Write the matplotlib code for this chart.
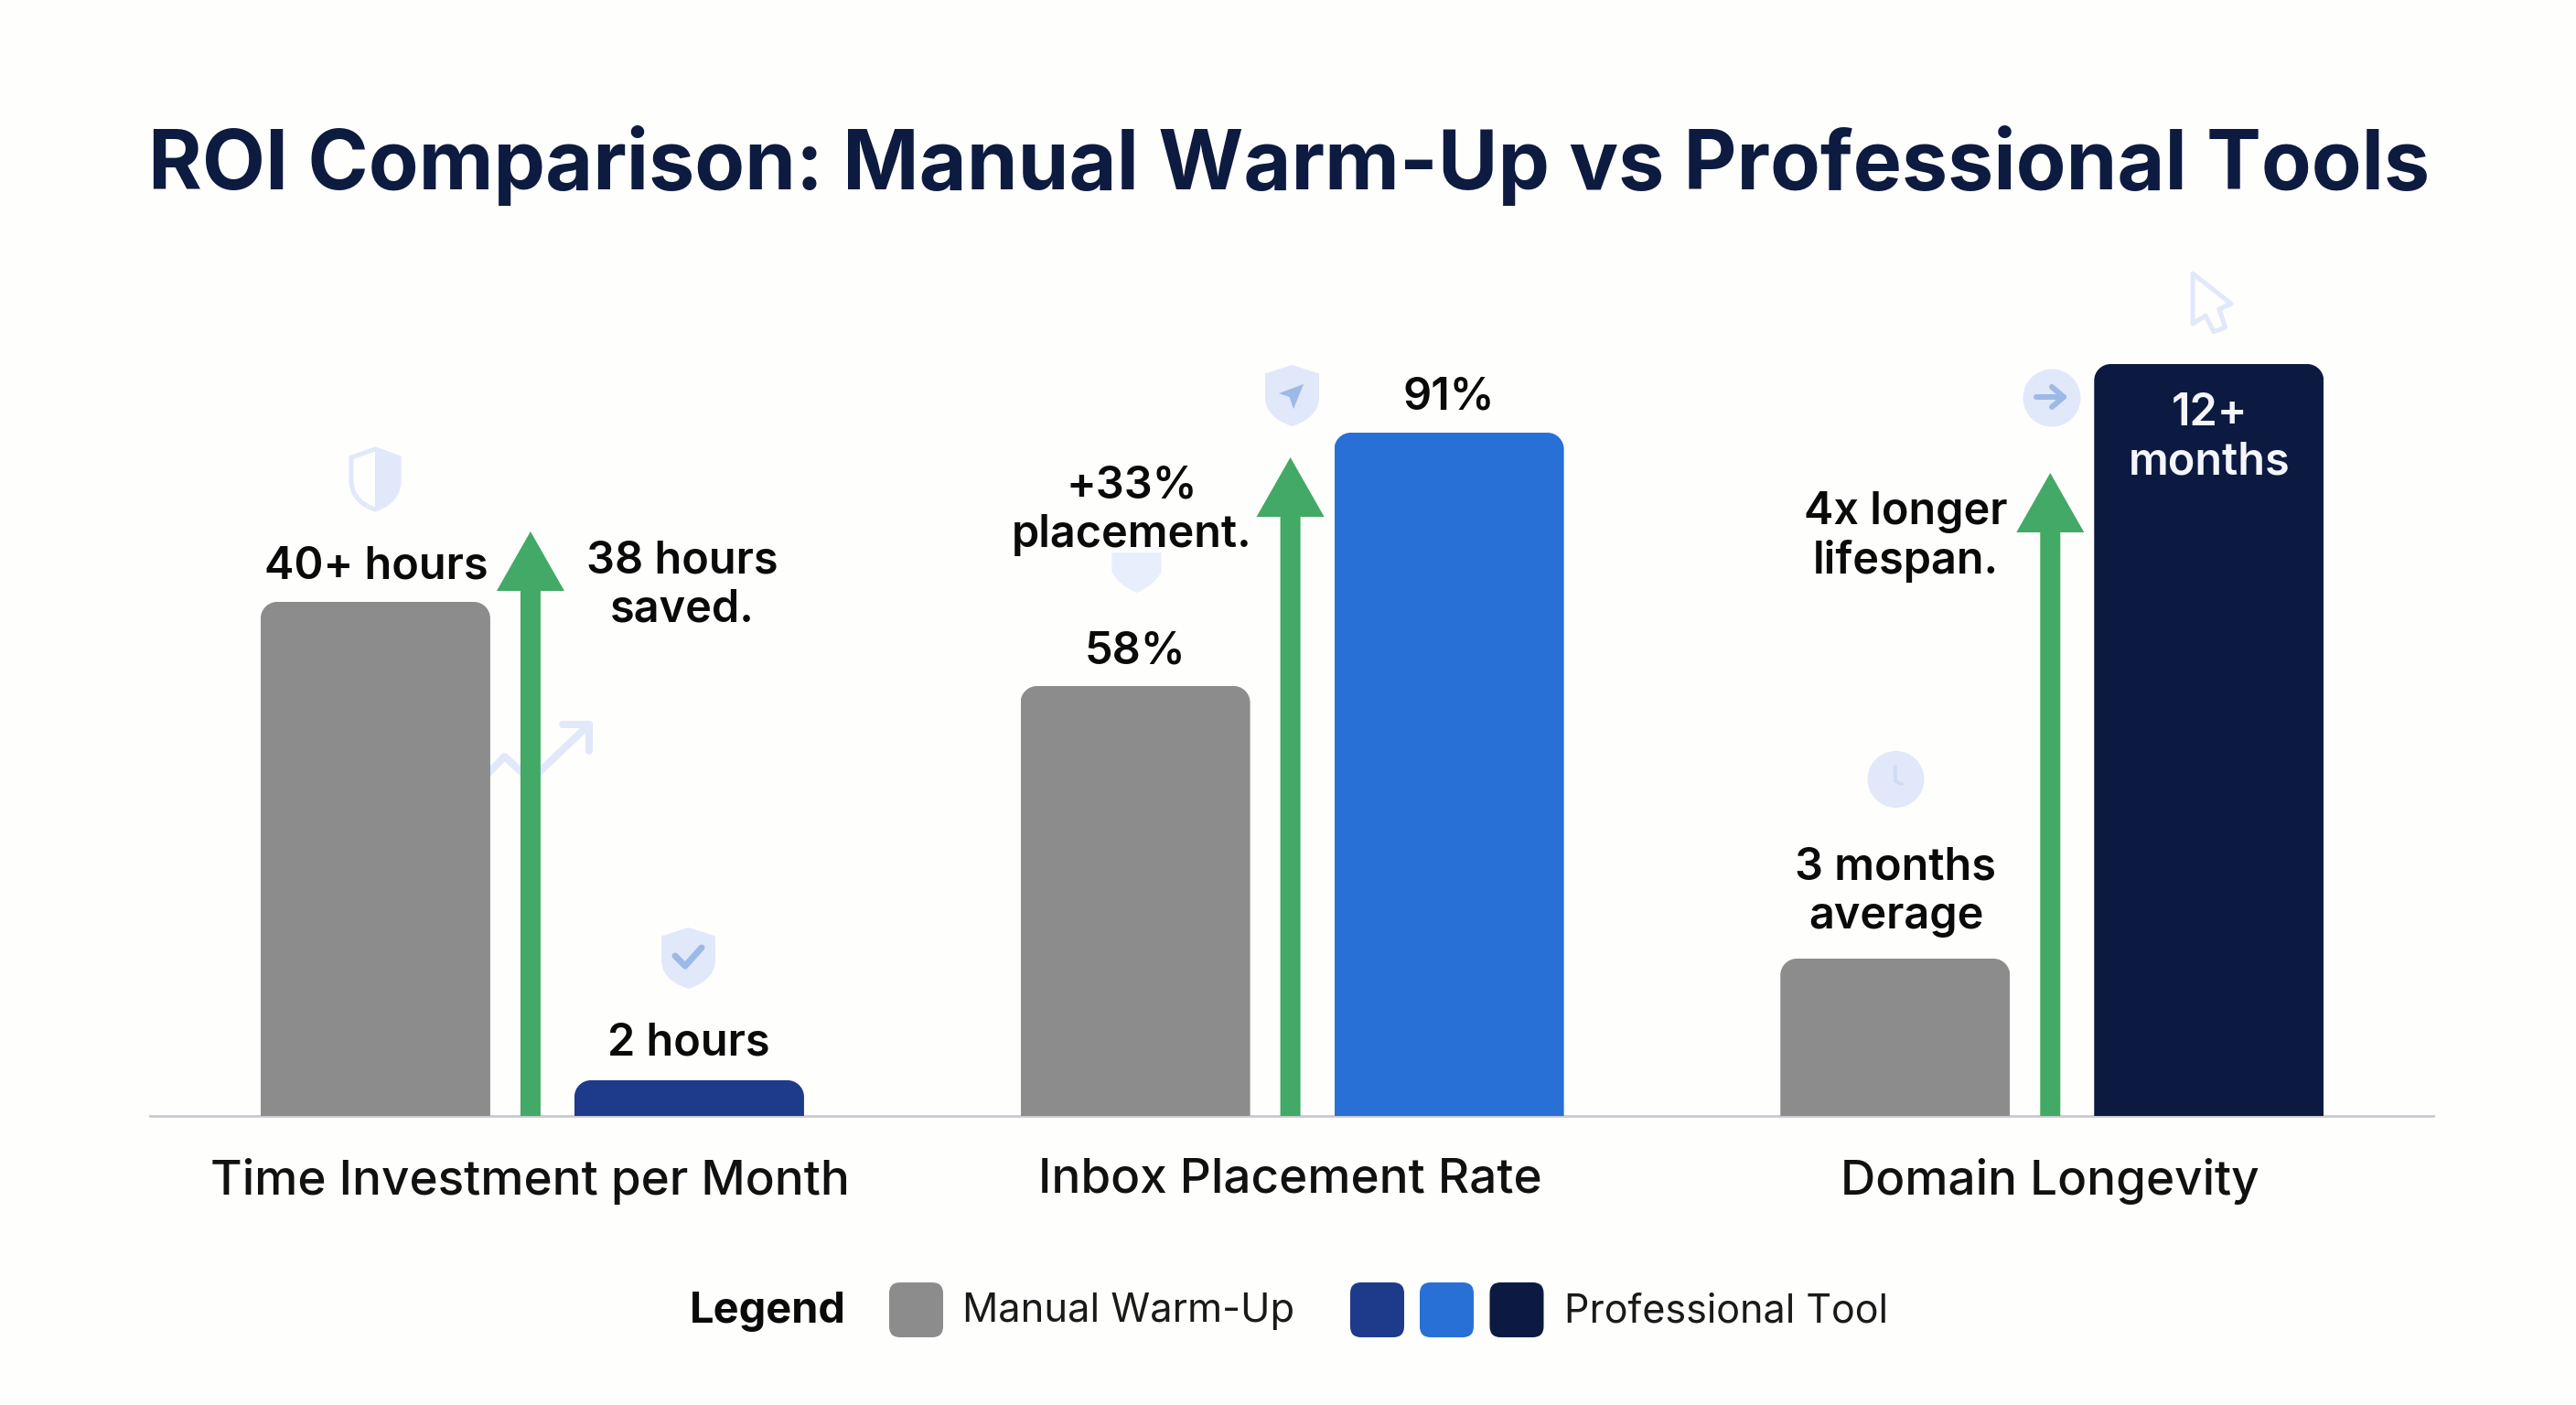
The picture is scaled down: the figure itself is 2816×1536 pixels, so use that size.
import matplotlib
matplotlib.use("Agg")
import matplotlib.pyplot as plt
from matplotlib.path import Path
from matplotlib.patches import PathPatch, Circle, FancyBboxPatch, Polygon
from matplotlib.lines import Line2D
from matplotlib.transforms import Affine2D

# ---------- data ----------
title = "ROI Comparison: Manual Warm-Up vs Professional Tools"
categories = ["Time Investment per Month", "Inbox Placement Rate", "Domain Longevity"]
manual_heights = [562, 470, 172]        # drawn bar heights
pro_heights = [39, 747, 822]
arrow_tips = [639, 720, 703]
manual_labels = ["40+ hours", "58%", "3 months\naverage"]
pro_labels = ["2 hours", "91%", "12+\nmonths"]
gain_labels = ["38 hours\nsaved.", "+33%\nplacement.", "4x longer\nlifespan."]
legend_title = "Legend"
legend_manual = "Manual Warm-Up"
legend_pro = "Professional Tool"

# ---------- style ----------
W, H = 2816, 1536
DPI = 100
BG = "#FEFEFD"
GRAY = "#8C8C8C"
PRO_COLORS = ["#1E3A8A", "#2870D5", "#0C1A42"]
GREEN = "#42A966"
NAVY = "#0D1B40"
ICON = "#E1E8FA"
ICON_D = "#9DB9E8"
FONT = ["Inter", "DejaVu Sans"]
plt.rcParams["font.family"] = FONT

fig = plt.figure(figsize=(W / DPI, H / DPI), dpi=DPI, facecolor=BG)
BASE_Y = 1220
AX_L, AX_R, AX_T = 164.6, 2656.6, 398
ax = fig.add_axes([AX_L / W, (H - BASE_Y) / H, (AX_R - AX_L) / W, (BASE_Y - AX_T) / H])
ax.set_xlim(-0.5, 2.5)
ax.set_ylim(0, BASE_Y - AX_T)
ax.patch.set_alpha(0)
ax.set_zorder(2)
for s in ["top", "left", "right", "bottom"]:
    ax.spines[s].set_visible(False)
ax.set_yticks([])
ax.set_xticks(range(len(categories)))
ax.set_xticklabels(categories, fontsize=38.2, color="#111111", fontweight="medium")
ax.tick_params(axis="x", length=0, pad=33)

# pixel-space transform for decoration and free text
PX = Affine2D().scale(1, -1).translate(0, H)

# baseline spans slightly wider than the axes
fig.add_artist(Line2D([164, 2660], [BASE_Y, BASE_Y], color="#C9C9CF", lw=2.0, transform=PX, zorder=1))

unit_x = (AX_R - AX_L) / 3.0
BAR_W = 251 / unit_x
OFF_L, OFF_R = -169.5 / unit_x, 173.5 / unit_x
RADIUS = 18


def rounded_clip(x0, x1, h, r=RADIUS):
    rx = r / unit_x
    k = 0.45
    verts = [(x0, 0), (x0, h - r), (x0, h - r * k), (x0 + rx * k, h), (x0 + rx, h),
             (x1 - rx, h), (x1 - rx * k, h), (x1, h - r * k), (x1, h - r), (x1, 0), (x0, 0)]
    codes = [Path.MOVETO, Path.LINETO, Path.CURVE4, Path.CURVE4, Path.CURVE4,
             Path.LINETO, Path.CURVE4, Path.CURVE4, Path.CURVE4, Path.LINETO, Path.CLOSEPOLY]
    return Path(verts, codes)


def draw_bars(pos, heights, colors):
    rects = ax.bar(pos, heights, width=BAR_W, color=colors, linewidth=0, zorder=3)
    for r, v in zip(rects, heights):
        x0 = r.get_x()
        r.set_clip_path(rounded_clip(x0, x0 + BAR_W, v), ax.transData)


draw_bars([i + OFF_L for i in range(3)], manual_heights, [GRAY] * 3)
draw_bars([i + OFF_R for i in range(3)], pro_heights, PRO_COLORS)

for i, tip in enumerate(arrow_tips):
    ax.arrow(i, 0, 0, tip, width=22 / unit_x, head_width=74 / unit_x, head_length=65,
             length_includes_head=True, color=GREEN, linewidth=0, zorder=4)


# ---------- text ----------
def px_text(x, y, s, size=35, color="#0A0A0A", weight="semibold", ha="center", ls=1.2):
    return fig.text(x / W, 1 - y / H, s, fontsize=size, color=color, fontweight=weight,
                    ha=ha, va="center", linespacing=ls, zorder=6)


fig.text(1409.5 / W, 1 - 181 / H, title, fontsize=64.6, fontweight="bold", color=NAVY,
         ha="center", va="center")

px_text(411, 620, manual_labels[0])
px_text(753, 1141, pro_labels[0])
px_text(746, 640, gain_labels[0])
px_text(1241, 712, manual_labels[1])
px_text(1584, 435, pro_labels[1])
px_text(1237, 558, gain_labels[1])
px_text(2072.5, 975, manual_labels[2])
px_text(2415, 479, pro_labels[2], color="#F4F6FB")
px_text(2083, 587, gain_labels[2])

px_text(839, 1434, legend_title, size=33.8, weight="bold")
px_text(1052, 1434, legend_manual, size=31.3, weight="normal", ha="left", color="#1A1A1A")
px_text(1710, 1434, legend_pro, size=31, weight="normal", ha="left", color="#1A1A1A")

for x0, c in [(972, GRAY), (1476, PRO_COLORS[0]), (1552, PRO_COLORS[1]), (1628.5, PRO_COLORS[2])]:
    fig.add_artist(FancyBboxPatch((x0 + 10, 1402 + 10), 39, 40, boxstyle="round,pad=10,rounding_size=12",
                                  fc=c, ec="none", transform=PX, zorder=3))


# ---------- decorative icons ----------
def shield(cx, y0, w, h):
    x0, x1 = cx - w / 2, cx + w / 2
    ys = y0 + 0.14 * h
    ym = y0 + 0.52 * h
    v = [(cx, y0), (x1, ys), (x1, ym), (x1, y0 + 0.82 * h), (cx + 0.2 * w, y0 + 0.94 * h), (cx, y0 + h),
         (cx - 0.2 * w, y0 + 0.94 * h), (x0, y0 + 0.82 * h), (x0, ym), (x0, ys), (cx, y0)]
    c = [Path.MOVETO, Path.LINETO, Path.LINETO, Path.CURVE4, Path.CURVE4, Path.CURVE4,
         Path.CURVE4, Path.CURVE4, Path.CURVE4, Path.LINETO, Path.CLOSEPOLY]
    return Path(v, c)


def add_patch(p):
    p.set_transform(PX)
    fig.add_artist(p)
    return p


def add_line(xs, ys, color=ICON, lw=6, z=1):
    fig.add_artist(Line2D(xs, ys, color=color, lw=lw * 72 / DPI, transform=PX, zorder=z,
                          solid_capstyle="round", solid_joinstyle="round"))


# half-outlined shield above first bar
add_patch(PathPatch(shield(410, 491, 52, 66), fc="none", ec=ICON, lw=5 * 72 / DPI, zorder=1))
add_patch(PathPatch(Path([(410, 489), (438, 499), (438, 525), (436, 545), (410, 558), (410, 489)],
                         [Path.MOVETO, Path.LINETO, Path.LINETO, Path.CURVE3, Path.CURVE3, Path.CLOSEPOLY]),
                    fc=ICON, ec="none", zorder=1))
# trend arrow behind bars
add_line([530, 551.6, 580, 644], [849, 827, 853, 792], lw=8)
add_line([615, 644, 644], [792, 792, 821], lw=8)
# shield with tick
add_patch(PathPatch(shield(752.5, 1014, 59, 67), fc=ICON, ec="none", zorder=1))
add_line([738, 749, 767], [1045, 1056, 1036], color=ICON_D, lw=7, z=1.1)
# shield with navigation arrow
add_patch(PathPatch(shield(1412.5, 399, 59, 67), fc=ICON, ec="none", zorder=1))
add_patch(Polygon([(1425, 420), (1398, 430), (1409.5, 434), (1414, 447)], closed=True,
                  fc=ICON_D, ec="none", zorder=1.1))
# shield partly hidden by text
add_patch(PathPatch(Path([(1215.5, 604), (1269.5, 604), (1269.5, 625), (1262, 640), (1242.5, 648),
                          (1223, 640), (1215.5, 625), (1215.5, 604)],
                         [Path.MOVETO, Path.LINETO, Path.LINETO, Path.CURVE3, Path.CURVE3,
                          Path.CURVE3, Path.CURVE3, Path.CLOSEPOLY]),
                    fc="#E8EEFB", ec="none", zorder=1))
# circle with arrow
add_patch(Circle((2243, 435), 31.5, fc=ICON, ec="none", zorder=1))
add_line([2226, 2256], [434, 434], color=ICON_D, lw=6, z=1.1)
add_line([2243, 2256, 2243], [423, 434, 445], color=ICON_D, lw=6, z=1.1)
# clock circle
add_patch(Circle((2072.5, 852), 31, fc=ICON, ec="none", zorder=1))
add_line([2071.7, 2072, 2079], [838, 854, 857], color="#CFDDF3", lw=4, z=1.1)
# cursor
add_patch(Polygon([(2397, 299), (2439, 332), (2426, 338), (2432.6, 358), (2420, 362.7), (2411, 345), (2397, 354)],
                  closed=True, fc="none", ec=ICON, lw=5 * 72 / DPI, joinstyle="round", zorder=1))

fig.savefig("out.png", dpi=DPI, facecolor=BG)
